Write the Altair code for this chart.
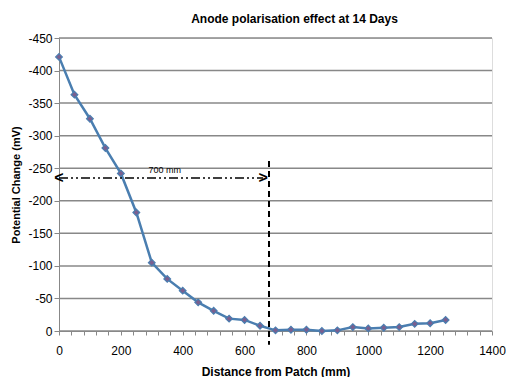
import altair as alt
import pandas as pd

distance = [0, 50, 100, 150, 200, 250, 300, 350, 400, 450, 500, 550, 600, 650,
            700, 750, 800, 850, 900, 950, 1000, 1050, 1100, 1150, 1200, 1250]
potential = [-421, -363, -326, -281, -242, -182, -105, -80, -62, -44, -31, -19, -17, -8,
             -1, -2, -2, 0, -1, -6, -4, -5, -6, -11, -12, -17]

arrow_x = [0, 660]
arrow_y = [-235, -235]
vline_x = [679, 679]
vline_y = [-261, 21]
label_x = [342]
label_y = [-248]
label_text = ["700 mm"]

x_ticks = list(range(0, 1401, 40))
y_ticks = list(range(-450, 1, 50))

df = pd.DataFrame({"d": distance, "p": potential})
FONT = "Liberation Sans"

xscale = alt.Scale(domain=[0, 1400], nice=False)
yscale = alt.Scale(domain=[-450, 0], reverse=True, nice=False)

XAXIS = alt.Axis(values=x_ticks, labelOverlap=False,
                 labelExpr="datum.value % 200 === 0 ? format(datum.value, 'd') : ''",
                 grid=False, tickSize=4, labelPadding=10,
                 labelFontSize=12, titleFontSize=12, titleFontWeight="bold",
                 titlePadding=10, labelFlush=False)
YAXIS = alt.Axis(values=y_ticks, grid=False, tickSize=5, labelOverlap=False,
                 labelExpr="replace(format(datum.value, 'd'), '\u2212', '-')",
                 labelFontSize=12, titleFontSize=11, titleFontWeight="bold",
                 titlePadding=6)
XT = "Distance from Patch (mm)"
YT = "Potential Change (mV)"


def X(f):
    return alt.X(f, scale=xscale, axis=XAXIS, title=XT)


def Y(f):
    return alt.Y(f, scale=yscale, axis=YAXIS, title=YT)


grid = alt.Chart(pd.DataFrame({"g": y_ticks})).mark_rule(
    color="#888888", strokeWidth=1.5).encode(y=Y("g:Q"))

line = alt.Chart(df).mark_line(color="#4a7eb0", strokeWidth=2.5).encode(
    x=X("d:Q"), y=Y("p:Q"))
pts = alt.Chart(df).mark_point(shape="diamond", filled=True, size=45,
                               color="#7a5f8f", stroke="#4a7eb0", strokeWidth=1.2,
                               opacity=1).encode(x=X("d:Q"), y=Y("p:Q"))

adf = pd.DataFrame({"x": [arrow_x[0]], "x2": [arrow_x[1]], "y": [arrow_y[0]]})
arrow = alt.Chart(adf).mark_rule(color="black", strokeWidth=1.5,
                                 strokeDash=[9, 3, 2, 3, 2, 3]).encode(
    x=X("x:Q"), x2="x2:Q", y=Y("y:Q"))
heads = alt.Chart(pd.DataFrame({"x": arrow_x, "y": arrow_y, "t": ["<", ">"]})).mark_text(
    fontSize=16, font=FONT, baseline="middle", color="black", fontWeight="bold").encode(
    x=X("x:Q"), y=Y("y:Q"), text="t:N")

vdf = pd.DataFrame({"x": [vline_x[0]], "y": [vline_y[0]], "y2": [vline_y[1]]})
vline = alt.Chart(vdf).mark_rule(color="black", strokeWidth=2, strokeDash=[6, 4],
                                 clip=False).encode(x=X("x:Q"), y=Y("y:Q"), y2="y2:Q")

ldf = pd.DataFrame({"x": label_x, "y": label_y, "t": label_text})
lab = alt.Chart(ldf).mark_text(fontSize=9, font=FONT, color="black").encode(
    x=X("x:Q"), y=Y("y:Q"), text="t:N")

chart = alt.layer(grid, line, pts, arrow, heads, vline, lab).properties(
    width=433, height=293,
    title=alt.TitleParams("Anode polarisation effect at 14 Days", fontSize=12,
                          fontWeight="bold", font=FONT, dx=19, offset=6),
).configure_axis(
    labelFont=FONT, titleFont=FONT, labelColor="black", titleColor="black",
    domainColor="#888888", domainWidth=2, tickColor="#888888", tickWidth=1.5,
).configure_view(stroke=None).configure(
    padding={"left": 2, "top": 5, "right": 0, "bottom": 0})

chart.save("out.html", embed_options={"renderer": "svg", "actions": False})
